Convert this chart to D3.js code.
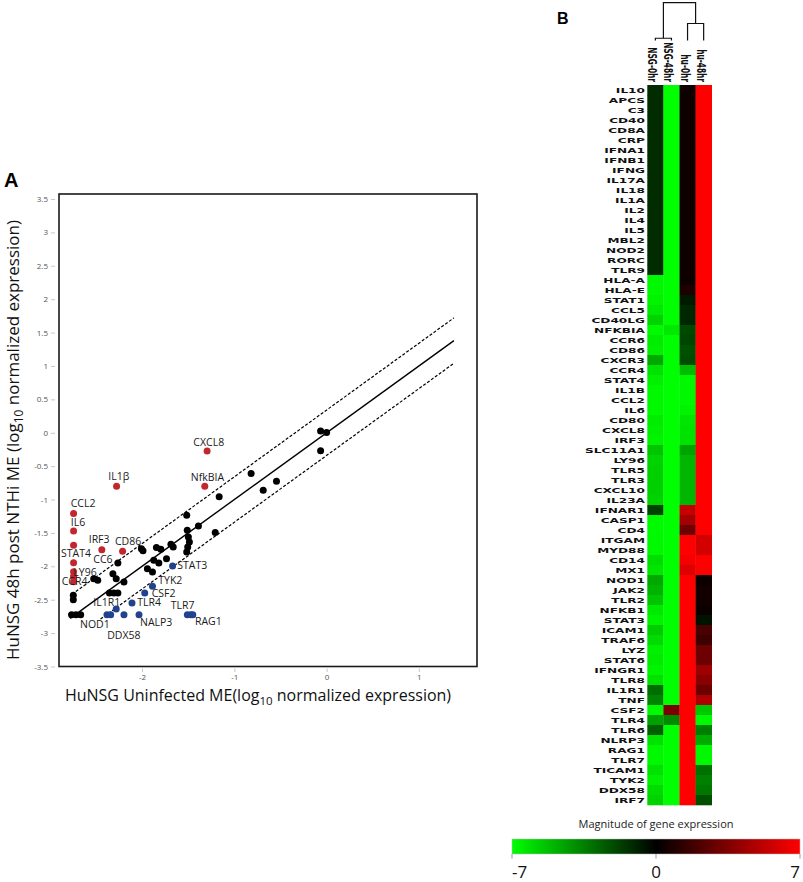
<!DOCTYPE html>
<html><head><meta charset="utf-8">
<script src="https://cdn.jsdelivr.net/npm/d3@7"></script>
<style>body{margin:0;background:#fff} svg{display:block}</style>
</head><body>
<svg id="c" width="803" height="882"></svg>
<script>
// ---------- Panel A data (log10 normalized expression) ----------
const upGenes = [ // red: up-regulated after infection
  [-1.295,-0.275],[-1.32,-0.80],[-2.276,-0.80],[-2.742,-1.21],[-2.742,-1.47],[-2.742,-1.685],
  [-2.742,-1.945],[-2.742,-2.08],[-2.742,-2.15],[-2.742,-2.23],[-2.436,-1.75],[-2.211,-1.775]];
const downGenes = [ // blue: down-regulated
  [-1.669,-1.995],[-1.887,-2.30],[-1.971,-2.40],[-2.109,-2.55],[-2.28,-2.64],[-2.38,-2.725],
  [-2.34,-2.725],[-2.196,-2.725],[-2.033,-2.725],[-1.509,-2.725],[-1.473,-2.725],[-1.45,-2.725]];
const stableGenes = [ // black
  [-2.745,-2.435],[-2.745,-2.50],[-2.764,-2.725],[-2.716,-2.725],[-2.665,-2.725],[-2.524,-2.185],
  [-2.48,-2.21],[-2.262,-1.95],[-2.316,-2.11],[-2.28,-2.185],[-2.196,-2.235],[-2.353,-2.40],
  [-2.305,-2.40],[-2.262,-2.40],[-2.007,-1.735],[-1.99,-1.765],[-1.844,-1.72],[-1.796,-1.745],
  [-1.873,-1.91],[-1.818,-1.95],[-1.942,-2.035],[-1.887,-2.085],[-1.735,-1.885],[-1.687,-1.67],
  [-1.662,-1.71],[-1.516,-1.235],[-1.51,-1.46],[-1.498,-1.56],[-1.487,-1.635],[-1.505,-1.71],
  [-1.516,-1.785],[-1.389,-1.395],[-1.207,-1.495],[-1.164,-0.96],[-0.818,-0.61],[-0.687,-0.86],
  [-0.543,-0.725],[-0.065,0.025],[0.0,0.005],[-0.065,-0.27]];
const geneLabels = [ // [text, x, y (data units of text anchor), anchor]
  ["CXCL8",-1.277,-0.199,"middle"],["NfkBIA",-1.291,-0.723,"middle"],["IL1β",-2.252,-0.708,"middle"],
  ["CCL2",-2.773,-1.108,"start"],["IL6",-2.773,-1.397,"start"],["IRF3",-2.578,-1.647,"start"],
  ["CD86",-2.293,-1.681,"start"],["STAT4",-2.878,-1.856,"start"],["CC6",-2.528,-1.955,"start"],
  ["LY96",-2.745,-2.141,"start"],["CCR4",-2.871,-2.280,"start"],["STAT3",-1.618,-2.045,"start"],
  ["TYK2",-1.824,-2.262,"start"],["CSF2",-1.895,-2.462,"start"],["TLR4",-2.051,-2.594,"start"],
  ["IL1R1",-2.528,-2.594,"start"],["TLR7",-1.690,-2.644,"start"],["RAG1",-1.426,-2.879,"start"],
  ["NALP3",-2.022,-2.889,"start"],["NOD1",-2.672,-2.928,"start"],["DDX58",-2.377,-3.084,"start"]];
const fitLines = [ // identity line and ±fold-change limits: [x0, x1, offset]
  [-2.78, 1.38, 0], [-2.76, 1.38, 0.34], [-2.45, 1.38, -0.34]];
const xTicks = [-2,-1,0,1];
const yTicks = [3.5,3,2.5,2,1.5,1,0.5,0,-0.5,-1,-1.5,-2,-2.5,-3,-3.5];

// ---------- Panel B data (heatmap) ----------
const genes = ["IL10","APCS","C3","CD40","CD8A","CRP","IFNA1","IFNB1","IFNG","IL17A","IL18","IL1A","IL2","IL4","IL5","MBL2","NOD2","RORC","TLR9","HLA-A","HLA-E","STAT1","CCL5","CD40LG","NFKBIA","CCR6","CD86","CXCR3","CCR4","STAT4","IL1B","CCL2","IL6","CD80","CXCL8","IRF3","SLC11A1","LY96","TLR5","TLR3","CXCL10","IL23A","IFNAR1","CASP1","CD4","ITGAM","MYD88","CD14","MX1","NOD1","JAK2","TLR2","NFKB1","STAT3","ICAM1","TRAF6","LYZ","STAT6","IFNGR1","TLR8","IL1R1","TNF","CSF2","TLR4","TLR6","NLRP3","RAG1","TLR7","TICAM1","TYK2","DDX58","IRF7"];
const samples = ["NSG-0hr","NSG-48hr","hu-0hr","hu-48hr"];
const nsg0 = [-1.2,-1.2,-1.2,-1.2,-1.2,-1.2,-1.2,-1.2,-1.2,-1.2,-1.2,-1.2,-1.2,-1.2,-1.2,-1.2,-1.2,-1.2,-1.2,
  -6.8,-6.8,-6.7,-6.4,-5.8,-6.9,-6.5,-6.6,-4.6,-6.2,-6.6,-6.8,-6.8,-6.8,-6.5,-6.6,-6.7,-5.4,-5.8,-5.7,-5.7,-5.7,-5.8,
  -1.8,-6.9,-6.9,-6.8,-6.8,-6.1,-6.3,-4.6,-4.9,-5.4,-6.4,-6.7,-5.6,-6.0,-6.6,-6.5,-6.7,-6.2,-3.0,-3.6,
  -6.9,-4.4,-2.6,-6.2,-6.8,-6.8,-6.2,-6.6,-6.0,-5.8];
const nsg48 = [-7,-7,-7,-7,-7,-7,-7,-7,-7,-7,-7,-7,-7,-7,-7,-7,-7,-7,-7,
  -7,-7,-7,-7,-7,-6.4,-7,-7,-7,-7,-7,-7,-7,-7,-7,-7,-7,-7,-7,-7,-7,-7,-7,
  -7,-7,-7,-7,-7,-7,-7,-7,-7,-7,-7,-7,-7,-7,-7,-7,-7,-7,-7,-7,
  3.4,-3.8,-7,-7,-7,-7,-7,-7,-7,-7];
const hu0 = [0.4,0.4,0.4,0.4,0.4,0.4,0.4,0.4,0.4,0.4,0.4,0.4,0.4,0.4,0.4,0.4,0.4,0.4,0.4,
  0.4,0.8,-0.7,-1.1,-1.1,-2.0,-1.9,-2.2,-2.1,-5.2,-6.8,-6.8,-6.8,-6.7,-6.3,-6.2,-6.2,-4.5,-5.0,-5.0,-5.0,-5.0,-5.0,
  5.4,4.5,3.0,7,7,6.7,6.1,7,7,7,7,7,7,7,7,7,7,7,7,7,
  7,7,7,7,7,7,7,7,7,7];
const hu48 = [7,7,7,7,7,7,7,7,7,7,7,7,7,7,7,7,7,7,7,
  7,7,7,7,7,7,7,7,7,7,7,7,7,7,7,7,7,7,7,7,7,7,7,
  7,7,7,5.8,5.8,7,7,0.3,0.5,0.5,0.3,-0.5,2.0,1.7,3.0,3.0,4.3,3.8,3.0,4.8,
  -5.5,-6.8,-3.5,-4.7,-6.8,-6.8,-3.1,-3.5,-3.3,-2.2];
const dendroHeights = [0.06, 0.45, 1.0]; // NSG pair, hu pair, root
const legendTicks = [-7, 0, 7];

// ---------- drawing ----------
const svg = d3.select("#c");
const sans = "'Open Sans', 'Liberation Sans', sans-serif";

// Panel A
svg.append("text").attr("x",4).attr("y",186.5).attr("font-family","'Liberation Sans', Arial, sans-serif")
  .attr("font-weight","bold").attr("font-size",20).text("A");

const x = d3.scaleLinear().domain([-2.9,1.63]).range([59,477]);
const y = d3.scaleLinear().domain([-3.5,3.575]).range([666.5,194]);

const yAxis = svg.append("g").attr("transform","translate(55,0)")
  .call(d3.axisLeft(y).tickValues(yTicks).tickSize(4).tickPadding(3).tickFormat(d=>String(d)));
const xAxis = svg.append("g").attr("transform","translate(0,668.5)")
  .call(d3.axisBottom(x).tickValues(xTicks).tickSize(3.5).tickPadding(2.5).tickFormat(d=>String(d)));
[yAxis,xAxis].forEach(g=>{
  g.select(".domain").remove();
  g.selectAll("line").attr("stroke","#c8c8c8");
  g.selectAll("text").attr("fill","#555").attr("font-size",8).attr("font-family",sans);
});

svg.append("rect").attr("x",x(-2.9)).attr("y",y(3.575)).attr("width",x(1.63)-x(-2.9))
  .attr("height",y(-3.5)-y(3.575)).attr("fill","none").attr("stroke","#1a1a1a").attr("stroke-width",1.6);

fitLines.forEach(([x0,x1,off])=>{
  svg.append("line").attr("x1",x(x0)).attr("y1",y(x0+off)).attr("x2",x(x1)).attr("y2",y(x1+off))
    .attr("stroke","#000").attr("stroke-width",off===0?1.4:1.2)
    .attr("stroke-dasharray",off===0?null:"3,1.8");
});

const drawPts = (arr,col)=>svg.append("g").selectAll("circle").data(arr).join("circle")
  .attr("cx",d=>x(d[0])).attr("cy",d=>y(d[1])).attr("r",3.5).attr("fill",col);
drawPts(stableGenes,"#000");
drawPts(upGenes,"#c1272d");
drawPts(downGenes,"#22418f");

svg.append("g").selectAll("text").data(geneLabels).join("text")
  .attr("x",d=>x(d[1])).attr("y",d=>y(d[2])).attr("text-anchor",d=>d[3])
  .attr("font-family",sans).attr("font-size",10.5).attr("fill","#1a1a1a").text(d=>d[0]);

// axis titles
const yt = svg.append("text").attr("transform","translate(19,440) rotate(-90)")
  .attr("text-anchor","middle").attr("font-family",sans).attr("font-size",17).attr("fill","#111");
yt.append("tspan").text("HuNSG 48h post NTHi ME (log");
yt.append("tspan").attr("font-size",12).attr("dy",4).text("10");
yt.append("tspan").attr("dy",-4).text(" normalized expression)");
const xt = svg.append("text").attr("x",258).attr("y",701)
  .attr("text-anchor","middle").attr("font-family",sans).attr("font-size",16).attr("fill","#111");
xt.append("tspan").text("HuNSG Uninfected ME(log");
xt.append("tspan").attr("font-size",11.5).attr("dy",4).text("10");
xt.append("tspan").attr("dy",-4).text(" normalized expression)");

// Panel B
svg.append("text").attr("x",557).attr("y",24).attr("font-family","'Liberation Sans', Arial, sans-serif")
  .attr("font-weight","bold").attr("font-size",16).text("B");

const hx = d3.scaleBand().domain(samples).range([647.3,711.7]);
const hy = d3.scaleBand().domain(genes).range([85,805]);
const color = d3.scaleLinear().domain([-7,0,7]).range(["#00ff00","#000000","#ff0000"]).clamp(true);
const cols = [nsg0,nsg48,hu0,hu48];
const cells = [];
genes.forEach((g,i)=>samples.forEach((s,j)=>cells.push({g,s,v:cols[j][i]})));
svg.append("g").selectAll("rect").data(cells).join("rect")
  .attr("x",d=>hx(d.s)).attr("y",d=>hy(d.g)).attr("width",hx.bandwidth()+0.3).attr("height",hy.bandwidth()+0.3)
  .attr("fill",d=>color(d.v));

const lab = "'DejaVu Sans', Verdana, sans-serif";
svg.append("g").selectAll("text").data(genes).join("text")
  .attr("transform",d=>`translate(645,${hy(d)+hy.bandwidth()/2}) scale(1.62,1)`)
  .attr("dy","0.37em").attr("text-anchor","end").attr("font-family",lab).attr("font-weight","bold")
  .attr("font-size",7.5).attr("fill","#111").text(d=>d);
svg.append("g").selectAll("text").data(samples).join("text")
  .attr("transform",d=>`translate(${hx(d)+1},82) scale(1.6,1) rotate(90)`)
  .attr("text-anchor","end").attr("font-family",lab).attr("font-weight","bold")
  .attr("font-size",7.4).attr("fill","#111").text(d=>d);

// dendrogram
const dh = d3.scaleLinear().domain([0,1]).range([40.5,2.7]);
const cx = s=>hx(s)+hx.bandwidth()/2;
const dg = svg.append("g").attr("fill","none").attr("stroke","#111").attr("stroke-width",1.2);
const m1 = (cx(samples[0])+cx(samples[1]))/2, m2 = (cx(samples[2])+cx(samples[3]))/2;
dg.append("path").attr("d",`M${cx(samples[0])},${dh(0)}V${dh(dendroHeights[0])}H${cx(samples[1])}V${dh(0)}`);
dg.append("path").attr("d",`M${cx(samples[2])},${dh(0)}V${dh(dendroHeights[1])}H${cx(samples[3])}V${dh(0)}`);
dg.append("path").attr("d",`M${m1},${dh(dendroHeights[0])}V${dh(dendroHeights[2])}H${m2}V${dh(dendroHeights[1])}`);

// legend
const lx = d3.scaleLinear().domain([-7,7]).range([512,800]);
const grad = svg.append("defs").append("linearGradient").attr("id","gr");
[-7,0,7].forEach(v=>grad.append("stop").attr("offset",(v+7)/14).attr("stop-color",color(v)));
svg.append("rect").attr("x",lx(-7)).attr("y",839).attr("width",lx(7)-lx(-7)).attr("height",15)
  .attr("fill","url(#gr)").attr("stroke","#bbb").attr("stroke-width",0.5);
svg.append("text").attr("x",lx(0)).attr("y",828).attr("text-anchor","middle")
  .attr("font-family",sans).attr("font-size",11).attr("fill","#222").text("Magnitude of gene expression");
svg.append("g").selectAll("line").data(legendTicks).join("line")
  .attr("x1",d=>lx(d)).attr("x2",d=>lx(d)).attr("y1",854).attr("y2",858.5).attr("stroke","#999");
svg.append("g").selectAll("text").data(legendTicks).join("text")
  .attr("x",d=>lx(d)).attr("y",878).attr("text-anchor",(d,i)=>["start","middle","end"][i])
  .attr("font-family",sans).attr("font-size",17).attr("fill","#111").text(d=>String(d));
</script>
</body></html>
